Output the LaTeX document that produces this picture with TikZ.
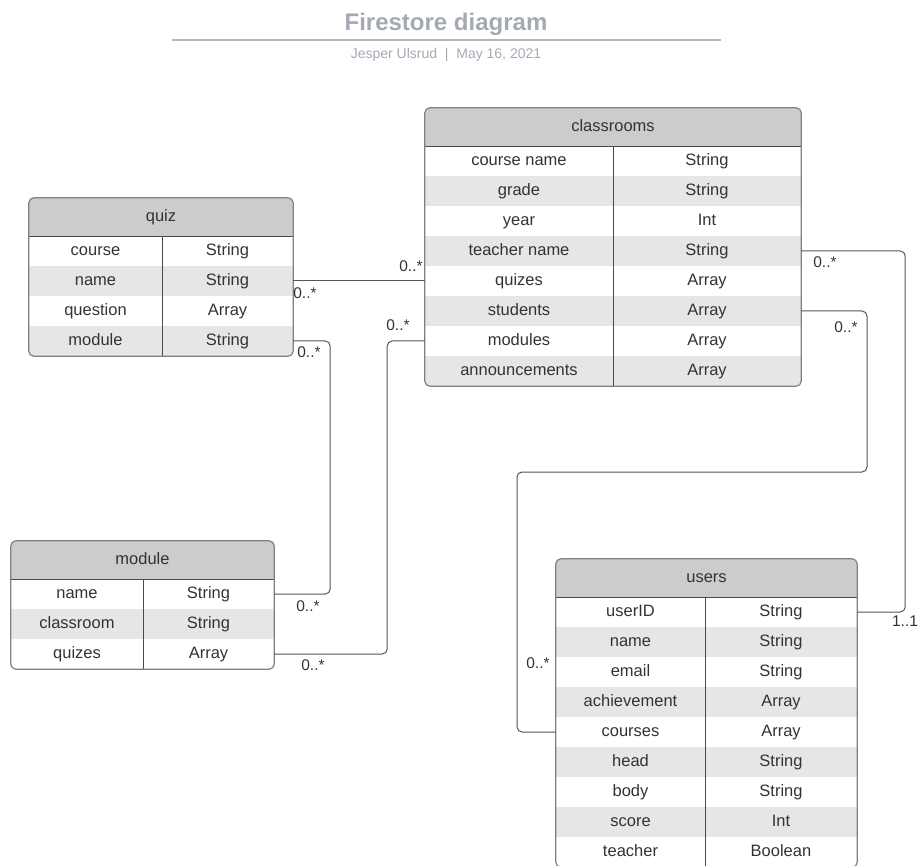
\documentclass[tikz,border=0pt]{standalone}
\usepackage{fontspec}
\setmainfont{Liberation Sans}
\definecolor{txt}{HTML}{333333}
\definecolor{hdrgray}{HTML}{CCCCCC}
\definecolor{rowgray}{HTML}{E6E6E6}
\definecolor{framegray}{HTML}{808080}
\definecolor{rulegray}{HTML}{4A4A4A}
\definecolor{linkgray}{HTML}{555555}
\definecolor{titlegray}{HTML}{A4A9B3}

\begin{document}
\begin{tikzpicture}[x=1pt,y=-1pt,
  cell/.style={minimum height=30pt,inner sep=0pt,text height=11.5pt,text depth=3pt,
    text=txt,font=\fontsize{16.5}{18}\selectfont},
  alt/.style={fill=rowgray},
  hdr/.style={cell,minimum height=38pt,fill=hdrgray},
  mult/.style={inner sep=0pt,text height=11pt,text depth=0pt,text=txt,font=\fontsize{15.5}{17}\selectfont},
  tbox/.style={draw=framegray,line width=1.2pt,rounded corners=5pt},
  rule/.style={draw=rulegray,line width=0.9pt},
  link/.style={draw=linkgray,line width=1pt,rounded corners=5pt}]

  \useasboundingbox (0,0) rectangle (921,866);

  % title
  \node[anchor=base,text=titlegray,font=\bfseries\fontsize{24}{28}\selectfont] (title) at (446,31) {Firestore diagram};
  \draw[titlegray!85,line width=2pt] (172,40) -- (721,40);
  \node[anchor=base,text=titlegray,font=\fontsize{14}{16}\selectfont] (sub) at (446,59) {Jesper Ulsrud\ \ |\ \ May 16, 2021};

  % classrooms
  \begin{scope}
  \clip[rounded corners=5pt] (425,108) rectangle (801,386);
  \node[hdr,minimum width=376pt] (classrooms) at (613,127) {classrooms};
  \node[cell,minimum width=188pt] (c1) at (519,161) {course name};
  \node[cell,minimum width=188pt] (c1t) at (707,161) {String};
  \node[cell,alt,minimum width=188pt] (c2) at (519,191) {grade};
  \node[cell,alt,minimum width=188pt] (c2t) at (707,191) {String};
  \node[cell,minimum width=188pt] (c3) at (519,221) {year};
  \node[cell,minimum width=188pt] (c3t) at (707,221) {Int};
  \node[cell,alt,minimum width=188pt] (c4) at (519,251) {teacher name};
  \node[cell,alt,minimum width=188pt] (c4t) at (707,251) {String};
  \node[cell,minimum width=188pt] (c5) at (519,281) {quizes};
  \node[cell,minimum width=188pt] (c5t) at (707,281) {Array};
  \node[cell,alt,minimum width=188pt] (c6) at (519,311) {students};
  \node[cell,alt,minimum width=188pt] (c6t) at (707,311) {Array};
  \node[cell,minimum width=188pt] (c7) at (519,341) {modules};
  \node[cell,minimum width=188pt] (c7t) at (707,341) {Array};
  \node[cell,alt,minimum width=188pt] (c8) at (519,371) {announcements};
  \node[cell,alt,minimum width=188pt] (c8t) at (707,371) {Array};
  \end{scope}
  \draw[rule] (classrooms.south west) -- (classrooms.south east);
  \draw[rule] (c1.north east) -- (c8.south east);
  \draw[tbox] (classrooms.north west) rectangle (c8t.south east);

  % quiz
  \begin{scope}
  \clip[rounded corners=5pt] (29,198) rectangle (293,356);
  \node[hdr,minimum width=264pt] (quiz) at (161,217) {quiz};
  \node[cell,minimum width=133pt] (q1) at (95.5,251) {course};
  \node[cell,minimum width=131pt] (q1t) at (227.5,251) {String};
  \node[cell,alt,minimum width=133pt] (q2) at (95.5,281) {name};
  \node[cell,alt,minimum width=131pt] (q2t) at (227.5,281) {String};
  \node[cell,minimum width=133pt] (q3) at (95.5,311) {question};
  \node[cell,minimum width=131pt] (q3t) at (227.5,311) {Array};
  \node[cell,alt,minimum width=133pt] (q4) at (95.5,341) {module};
  \node[cell,alt,minimum width=131pt] (q4t) at (227.5,341) {String};
  \end{scope}
  \draw[rule] (quiz.south west) -- (quiz.south east);
  \draw[rule] (q1.north east) -- (q4.south east);
  \draw[tbox] (quiz.north west) rectangle (q4t.south east);

  % module
  \begin{scope}
  \clip[rounded corners=5pt] (11,541) rectangle (274,669);
  \node[hdr,minimum width=263pt] (module) at (142.5,560) {module};
  \node[cell,minimum width=132pt] (m1) at (77,594) {name};
  \node[cell,minimum width=131pt] (m1t) at (208.5,594) {String};
  \node[cell,alt,minimum width=132pt] (m2) at (77,624) {classroom};
  \node[cell,alt,minimum width=131pt] (m2t) at (208.5,624) {String};
  \node[cell,minimum width=132pt] (m3) at (77,654) {quizes};
  \node[cell,minimum width=131pt] (m3t) at (208.5,654) {Array};
  \end{scope}
  \draw[rule] (module.south west) -- (module.south east);
  \draw[rule] (m1.north east) -- (m3.south east);
  \draw[tbox] (module.north west) rectangle (m3t.south east);

  % users
  \begin{scope}
  \clip[rounded corners=5pt] (556,559) rectangle (857,867);
  \node[hdr,minimum width=301pt] (users) at (706.5,578) {users};
  \node[cell,minimum width=149pt] (u1) at (630.5,612) {userID};
  \node[cell,minimum width=152pt] (u1t) at (781,612) {String};
  \node[cell,alt,minimum width=149pt] (u2) at (630.5,642) {name};
  \node[cell,alt,minimum width=152pt] (u2t) at (781,642) {String};
  \node[cell,minimum width=149pt] (u3) at (630.5,672) {email};
  \node[cell,minimum width=152pt] (u3t) at (781,672) {String};
  \node[cell,alt,minimum width=149pt] (u4) at (630.5,702) {achievement};
  \node[cell,alt,minimum width=152pt] (u4t) at (781,702) {Array};
  \node[cell,minimum width=149pt] (u5) at (630.5,732) {courses};
  \node[cell,minimum width=152pt] (u5t) at (781,732) {Array};
  \node[cell,alt,minimum width=149pt] (u6) at (630.5,762) {head};
  \node[cell,alt,minimum width=152pt] (u6t) at (781,762) {String};
  \node[cell,minimum width=149pt] (u7) at (630.5,792) {body};
  \node[cell,minimum width=152pt] (u7t) at (781,792) {String};
  \node[cell,alt,minimum width=149pt] (u8) at (630.5,822) {score};
  \node[cell,alt,minimum width=152pt] (u8t) at (781,822) {Int};
  \node[cell,minimum width=149pt] (u9) at (630.5,852) {teacher};
  \node[cell,minimum width=152pt] (u9t) at (781,852) {Boolean};
  \end{scope}
  \draw[rule] (users.south west) -- (users.south east);
  \draw[rule] (u1.north east) -- (u9.south east);
  \draw[tbox] (users.north west) rectangle (u9t.south east);

  % links
  \coordinate (k1) at (867,472);
  \coordinate (k2) at (517,732);
  \draw[link] (q2t.east) -- (c5.west);
  \draw[link] (q4t.east) -- ++(37,0) |- (m1t.east);
  \draw[link] (m3t.east) -- ++(113,0) |- (c7.west);
  \draw[link] (c4t.east) -- ++(104,0) |- (u1t.east);
  \draw[link] (c6t.east) -| (k1) -| (k2) -- (u5.west);

  % multiplicities
  \node[mult] (n1) at (411,266) {0..*};
  \node[mult] (n2) at (305,293) {0..*};
  \node[mult] (n3) at (309,352) {0..*};
  \node[mult] (n4) at (308,606) {0..*};
  \node[mult] (n5) at (398,325) {0..*};
  \node[mult] (n6) at (313,665) {0..*};
  \node[mult] (n7) at (825,262) {0..*};
  \node[mult] (n8) at (905,621) {1..1};
  \node[mult] (n9) at (846,327) {0..*};
  \node[mult] (n10) at (538,663) {0..*};
\end{tikzpicture}
\end{document}
